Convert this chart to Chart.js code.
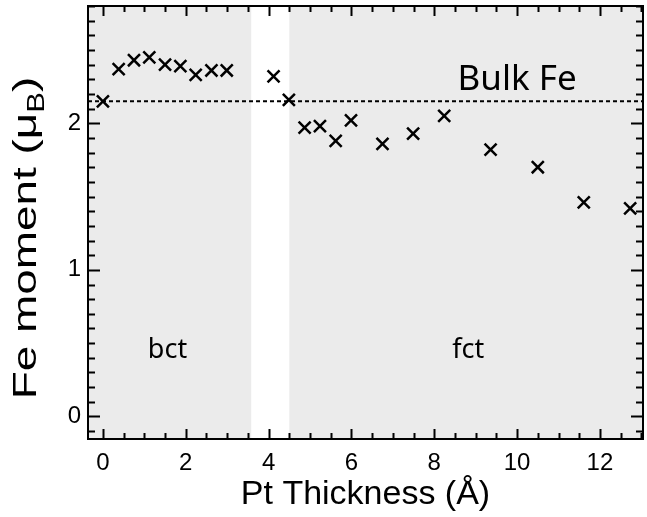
<!DOCTYPE html>
<html>
<head>
<meta charset="utf-8">
<script src="https://cdn.jsdelivr.net/npm/chart.js@4"></script>
<style>
  body { margin: 0; background: #fff; }
</style>
</head>
<body>
<canvas id="canvas" width="647" height="517"></canvas>
<script>
// data
var thickness = [0, 0.38, 0.75, 1.12, 1.5, 1.87, 2.24, 2.62, 2.99, 4.12, 4.49, 4.87, 5.24, 5.62, 5.99, 6.75, 7.49, 8.24, 9.36, 10.5, 11.61, 12.73];
var feMoment = [2.15, 2.37, 2.43, 2.45, 2.40, 2.39, 2.33, 2.36, 2.36, 2.32, 2.16, 1.97, 1.98, 1.88, 2.02, 1.86, 1.93, 2.05, 1.82, 1.70, 1.46, 1.42];
var bulkFe = 2.15;
var phaseNames = ["bct", "fct"];
var phaseFrom = [-0.36, 4.5];
var phaseTo = [3.58, 13.04];
var phaseLabelX = [1.56, 8.82];
var phaseLabelY = 0.40;
var xTicks = [0, 2, 4, 6, 8, 10, 12];
var yTicks = [0, 1, 2];
var xRange = [-0.36, 13.04];
var yRange = [-0.154, 2.8];

var points = thickness.map(function(t, i){ return {x: t, y: feMoment[i]}; });

var framePlugin = {
  id: 'frame',
  beforeDatasetsDraw: function(chart){
    var c = chart.ctx, a = chart.chartArea, xs = chart.scales.x;
    c.save();
    c.fillStyle = '#ebebeb';
    for (var i = 0; i < phaseFrom.length; i++) {
      var x1 = xs.getPixelForValue(phaseFrom[i]);
      var x2 = xs.getPixelForValue(phaseTo[i]);
      c.fillRect(x1, a.top, x2 - x1, a.bottom - a.top);
    }
    c.restore();
  },
  afterDatasetsDraw: function(chart){
    var c = chart.ctx, a = chart.chartArea, xs = chart.scales.x, ys = chart.scales.y;
    c.save();
    c.strokeStyle = '#000';
    c.lineWidth = 2;
    c.beginPath();
    // x ticks, every 0.5, long on the labelled ones
    for (var k = Math.ceil(xRange[0] * 2); k <= Math.floor(xRange[1] * 2); k++) {
      var v = k / 2, px = Math.round(xs.getPixelForValue(v)) + 0.5;
      var len = xTicks.indexOf(v) >= 0 ? 10 : 6;
      c.moveTo(px, a.bottom); c.lineTo(px, a.bottom - len);
      c.moveTo(px, a.top); c.lineTo(px, a.top + len);
    }
    // y ticks, every 0.1
    for (var j = Math.ceil(yRange[0] * 10); j <= Math.floor(yRange[1] * 10); j++) {
      var w = j / 10, py = Math.round(ys.getPixelForValue(w)) + 0.5;
      var l2 = (j % 10 === 0) ? 12 : 7;
      c.moveTo(a.left, py); c.lineTo(a.left + l2, py);
      c.moveTo(a.right, py); c.lineTo(a.right - l2, py);
    }
    c.stroke();
    c.strokeRect(a.left, a.top, a.right - a.left, a.bottom - a.top);

    c.fillStyle = '#000';
    c.textAlign = 'center';
    c.textBaseline = 'alphabetic';
    c.font = '27px "Noto Sans"';
    for (var i = 0; i < phaseNames.length; i++) {
      c.fillText(phaseNames[i], xs.getPixelForValue(phaseLabelX[i]), ys.getPixelForValue(phaseLabelY));
    }
    c.font = '35px "Noto Sans"';
    c.fillText('Bulk Fe', xs.getPixelForValue(10.0), ys.getPixelForValue(2.226));
    c.restore();
  },
  afterDraw: function(chart){
    // y axis title with subscript B
    var c = chart.ctx;
    c.save();
    c.translate(36, 238);
    c.rotate(-Math.PI / 2);
    c.scale(1.35, 1);
    c.fillStyle = '#000';
    c.textBaseline = 'alphabetic';
    var main = 'Fe moment (\u03bc', sub = 'B', end = ')';
    c.font = '34px "Liberation Sans"';
    var w1 = c.measureText(main).width, w3 = c.measureText(end).width;
    c.font = '23px "Liberation Sans"';
    var w2 = c.measureText(sub).width;
    var x0 = -(w1 + w2 + w3) / 2;
    c.font = '34px "Liberation Sans"';
    c.fillText(main, x0, 0);
    c.font = '23px "Liberation Sans"';
    c.fillText(sub, x0 + w1, 8);
    c.font = '34px "Liberation Sans"';
    c.fillText(end, x0 + w1 + w2, 0);
    c.restore();
  }
};

new Chart(document.getElementById("canvas"), {
  type: 'scatter',
  data: {
    datasets: [{
      data: points,
      pointStyle: 'crossRot',
      pointRadius: 8.5,
      pointBorderWidth: 2.5,
      borderColor: '#000',
      backgroundColor: '#000'
    }, {
      type: 'line',
      data: [{x: xRange[0], y: bulkFe}, {x: xRange[1], y: bulkFe}],
      borderColor: '#000',
      borderWidth: 2,
      borderDash: [4, 3],
      pointRadius: 0,
      fill: false
    }]
  },
  options: {
    responsive: false,
    animation: false,
    layout: { autoPadding: false, padding: { top: 6, right: 4, left: 0, bottom: 0 } },
    plugins: { legend: { display: false }, tooltip: { enabled: false } },
    scales: {
      x: {
        type: 'linear',
        min: xRange[0], max: xRange[1],
        afterFit: function(s){ s.height = 78; s.paddingLeft = 0; s.paddingRight = 0; },
        afterBuildTicks: function(s){ s.ticks = xTicks.map(function(v){ return {value: v}; }); },
        ticks: { font: { family: 'Liberation Sans', size: 24 }, color: '#000', padding: 10, maxRotation: 0 },
        grid: { display: false, drawTicks: false },
        border: { display: false },
        title: { display: true, text: 'Pt Thickness (\u00c5)', color: '#000',
                 font: { family: 'Liberation Sans', size: 34 }, padding: { top: 0, bottom: 2 } }
      },
      y: {
        min: yRange[0], max: yRange[1],
        afterFit: function(s){ s.width = 88; s.paddingTop = 0; s.paddingBottom = 0; },
        afterBuildTicks: function(s){ s.ticks = yTicks.map(function(v){ return {value: v}; }); },
        ticks: { font: { family: 'Liberation Sans', size: 24 }, color: '#000', padding: 7 },
        grid: { display: false, drawTicks: false },
        border: { display: false }
      }
    }
  },
  plugins: [framePlugin]
});
</script>
</body>
</html>
